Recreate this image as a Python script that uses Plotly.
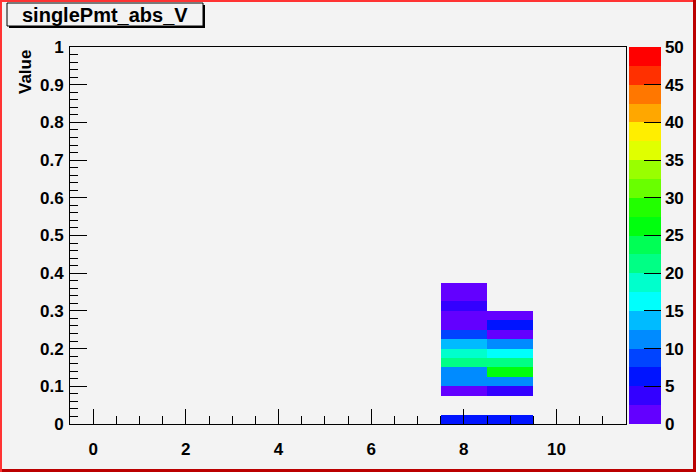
import colorsys
import plotly.graph_objects as go

# histogram binning (bin edges)
x_edges = [-0.5, 0.5, 1.5, 2.5, 3.5, 4.5, 5.5, 6.5, 7.5, 8.5, 9.5, 10.5, 11.5]
n_ybins = 40
y_edges = [i * 0.025 for i in range(n_ybins + 1)]

# bin contents for the two filled columns, from y-bin 0 upward (None = empty)
col_x8 = [6, None, None, 2, 11, 11, 21, 19, 14, 9, 2, 2, 4, 1, 1]
col_x9 = [6, None, None, 4, 11, 26, 21, 16, 11, 2, 6, 2]

z_min, z_max = 0, 50
cbar_ticks = [0, 5, 10, 15, 20, 25, 30, 35, 40, 45, 50]

z = [[None] * (len(x_edges) - 1) for _ in range(n_ybins)]
for i, v in enumerate(col_x8):
    z[i][8] = v
for i, v in enumerate(col_x9):
    z[i][9] = v

# ROOT "pretty" palette (violet -> red), 20 contour levels
ndiv = 20
colorscale = []
for j in range(ndiv):
    idx = int((j + 0.99) * 50 / ndiv)
    hue = 280 - (idx + 1) * 5.6
    r, g, b = colorsys.hls_to_rgb(hue / 360.0, 0.5, 1.0)
    c = "rgb(%d,%d,%d)" % (round(r * 255), round(g * 255), round(b * 255))
    colorscale.append([j / ndiv, c])
    colorscale.append([(j + 1) / ndiv, c])

BG = "#f3f3f3"
FONT = dict(family="Liberation Sans, Arial, sans-serif", color="black", size=17, weight="bold")

fig = go.Figure(go.Heatmap(
    x=x_edges, y=y_edges, z=z,
    zmin=z_min, zmax=z_max,
    colorscale=colorscale,
    hoverongaps=False,
    colorbar=dict(
        x=(629 - 70) / 556, xanchor="left", xpad=0,
        y=0.5, yanchor="middle", ypad=0, len=1, lenmode="fraction",
        thickness=32, outlinewidth=0,
        tickvals=cbar_ticks, ticks="inside", ticklen=17, tickcolor="black", tickwidth=1,
        tickfont=FONT,
    ),
))

# plot area in pixel coords -> paper coords helpers
L, R, T, B = 70, 626, 47, 424
def px(x):
    return (x - L) / (R - L)
def py(y):
    return (B - y) / (B - T)

shapes = [
    # canvas border (bevel)
    dict(type="rect", xref="paper", yref="paper", x0=px(0), x1=px(2), y0=py(472), y1=py(0),
         fillcolor="#ff3333", line_width=0),
    dict(type="rect", xref="paper", yref="paper", x0=px(0), x1=px(696), y0=py(2), y1=py(0),
         fillcolor="#ff3333", line_width=0),
    dict(type="rect", xref="paper", yref="paper", x0=px(693), x1=px(696), y0=py(472), y1=py(0),
         fillcolor="#bb0000", line_width=0),
    dict(type="rect", xref="paper", yref="paper", x0=px(2), x1=px(696), y0=py(472), y1=py(469),
         fillcolor="#bb0000", line_width=0),
    # title box shadow + box
    dict(type="rect", xref="paper", yref="paper", x0=px(9), x1=px(205), y0=py(28), y1=py(5),
         fillcolor="black", line_width=0),
    dict(type="rect", xref="paper", yref="paper", x0=px(7), x1=px(203), y0=py(26), y1=py(3),
         fillcolor=BG, line=dict(color="black", width=1)),
]

fig.add_annotation(text="singlePmt_abs_V", xref="paper", yref="paper",
                   x=px(105), y=py(15), xanchor="center", yanchor="middle",
                   showarrow=False, font=dict(FONT, size=20))
fig.add_annotation(text="Value", xref="paper", yref="paper",
                   x=px(25), y=py(48), xanchor="center", yanchor="top", textangle=-90,
                   showarrow=False, font=FONT)

fig.update_xaxes(
    range=[-0.5, 11.5], dtick=2, tick0=0,
    ticks="inside", ticklen=15, tickcolor="black",
    minor=dict(dtick=0.5, tick0=0, ticks="inside", ticklen=8, tickcolor="black"),
    showgrid=False, zeroline=False,
    showline=True, linecolor="black", linewidth=1, mirror=True,
    tickfont=FONT, ticklabelstandoff=10,
)
fig.update_yaxes(
    range=[0, 1], dtick=0.1, tick0=0,
    ticks="inside", ticklen=17, tickcolor="black",
    minor=dict(dtick=0.02, tick0=0, ticks="inside", ticklen=8, tickcolor="black"),
    showgrid=False, zeroline=False,
    showline=True, linecolor="black", linewidth=1, mirror=True,
    tickfont=FONT, ticklabelstandoff=2,
)

fig.update_layout(
    width=696, height=472,
    margin=dict(l=L, r=696 - R, t=T, b=472 - B, autoexpand=False),
    paper_bgcolor=BG, plot_bgcolor=BG,
    shapes=shapes,
    showlegend=False,
)

# drop the default page margin so the canvas sits at the window corner
fig.write_html("out.html", config={"displayModeBar": False},
               post_script="document.body.style.margin='0';")
